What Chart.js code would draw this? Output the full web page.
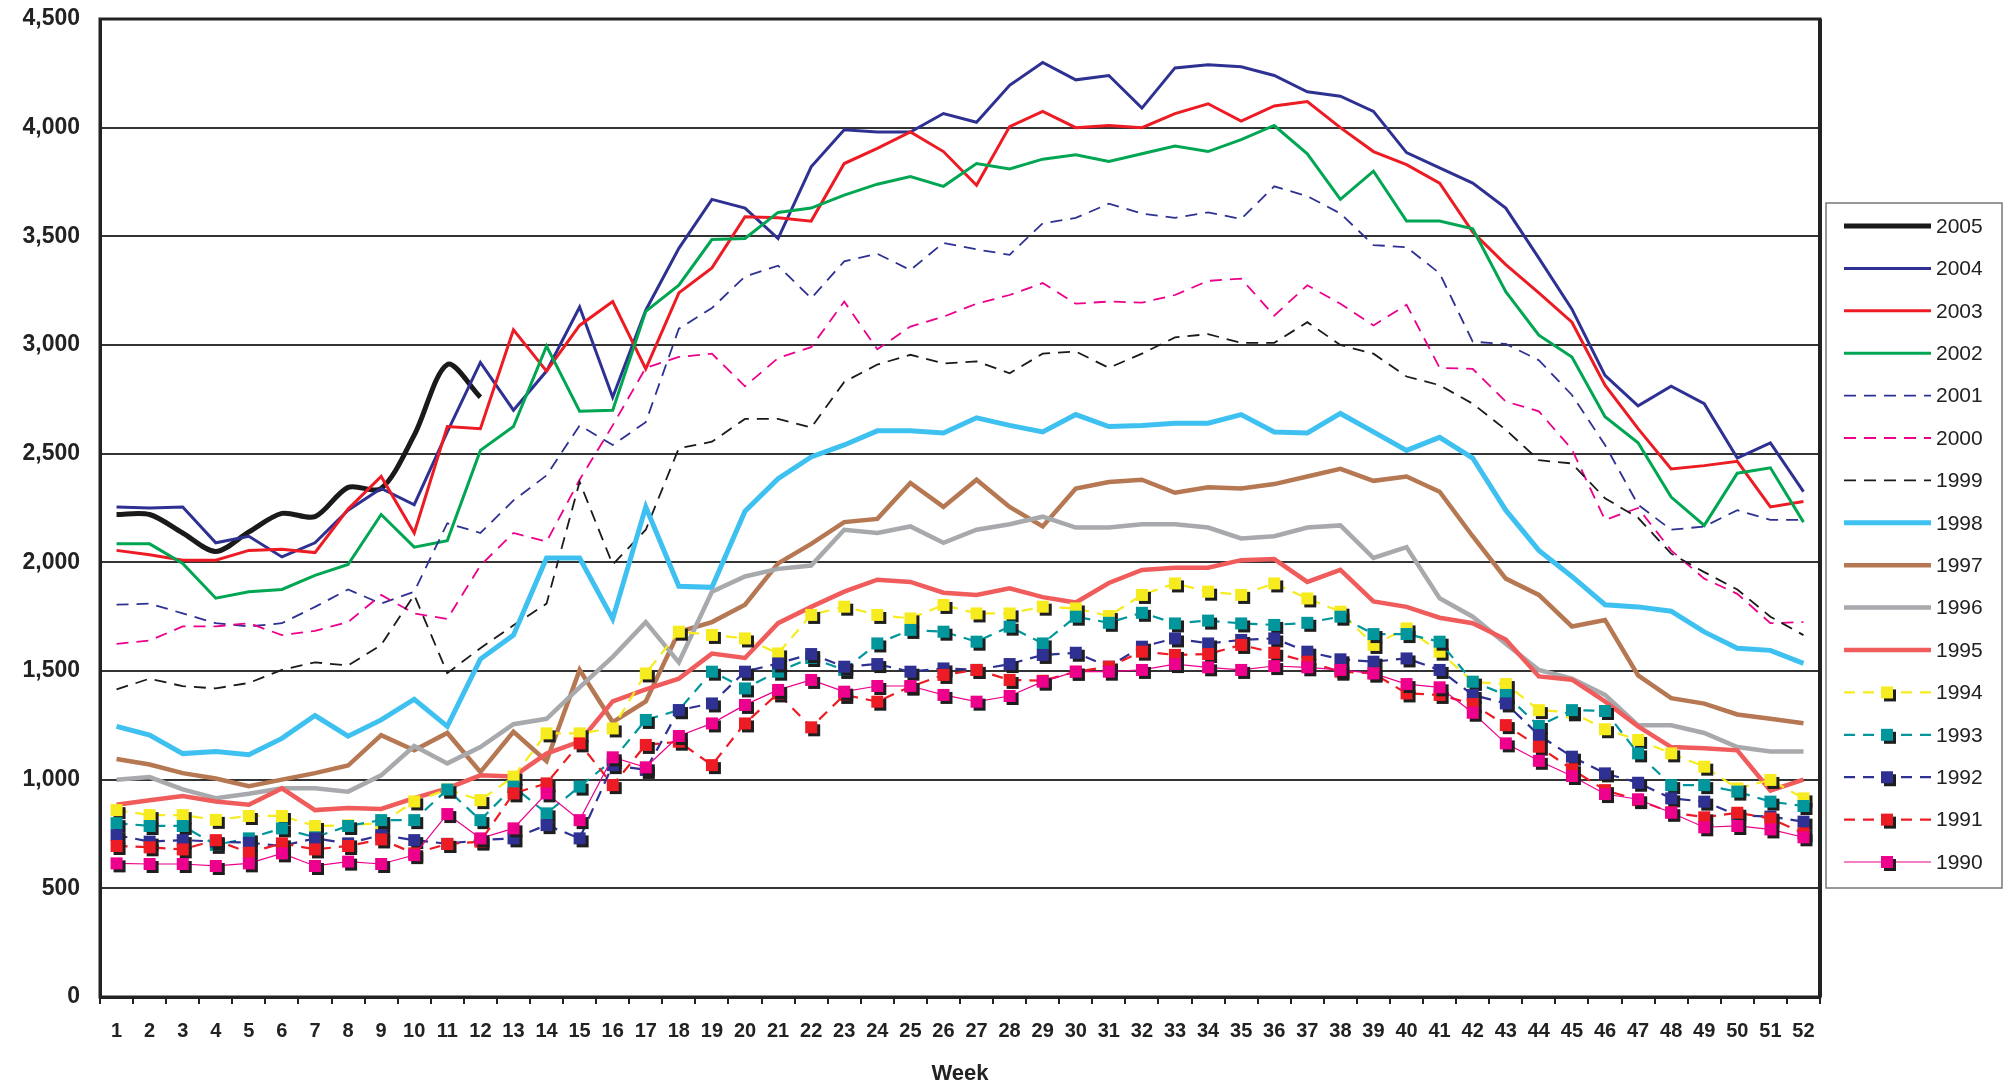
<!DOCTYPE html>
<html>
<head>
<meta charset="utf-8">
<script src="https://cdn.jsdelivr.net/npm/chart.js@4.4.1/dist/chart.umd.min.js"></script>
<style>
  html, body { margin: 0; padding: 0; background: #fff; }
  canvas { display: block; }
</style>
</head>
<body>
<canvas id="chart" width="2012" height="1088"></canvas>
<script>
// tick labels
const weeks = ['1','2','3','4','5','6','7','8','9','10','11','12','13','14','15','16','17','18','19','20',
  '21','22','23','24','25','26','27','28','29','30','31','32','33','34','35','36','37','38','39','40',
  '41','42','43','44','45','46','47','48','49','50','51','52'];

// weekly values per year
const y2005 = [2220, 2220, 2135, 2050, 2140, 2225, 2210, 2345, 2340, 2585, 2910, 2760];
const y2004 = [2255, 2250, 2255, 2090, 2120, 2025, 2090, 2240, 2340, 2265, 2600, 2920, 2700, 2880, 3175, 2760, 3160, 3445, 3670, 3630, 3490, 3820, 3990, 3980, 3980, 4065, 4025, 4195, 4300, 4220, 4240, 4090, 4275, 4290, 4280, 4240, 4165, 4145, 4075, 3885, 3815, 3745, 3630, 3400, 3165, 2860, 2720, 2810, 2730, 2480, 2550, 2325];
const y2003 = [2055, 2035, 2010, 2010, 2055, 2060, 2045, 2245, 2395, 2135, 2625, 2615, 3070, 2880, 3090, 3200, 2890, 3240, 3355, 3590, 3585, 3570, 3835, 3905, 3980, 3890, 3735, 4005, 4075, 4000, 4010, 4000, 4065, 4110, 4030, 4100, 4120, 4000, 3890, 3830, 3745, 3520, 3370, 3240, 3105, 2815, 2615, 2430, 2445, 2465, 2255, 2280];
const y2002 = [2085, 2085, 1995, 1835, 1865, 1875, 1940, 1990, 2220, 2070, 2100, 2515, 2625, 2995, 2695, 2700, 3155, 3275, 3485, 3490, 3610, 3630, 3690, 3740, 3775, 3730, 3835, 3810, 3855, 3875, 3845, 3880, 3915, 3890, 3945, 4010, 3880, 3670, 3800, 3570, 3570, 3535, 3245, 3045, 2945, 2670, 2550, 2300, 2170, 2410, 2435, 2185];
const y2001 = [1805, 1810, 1765, 1720, 1705, 1720, 1795, 1875, 1810, 1865, 2180, 2135, 2285, 2400, 2630, 2540, 2645, 3075, 3170, 3315, 3365, 3215, 3385, 3420, 3345, 3470, 3440, 3415, 3560, 3585, 3650, 3605, 3585, 3610, 3580, 3730, 3685, 3605, 3460, 3450, 3330, 3015, 3005, 2930, 2770, 2540, 2265, 2150, 2165, 2240, 2195, 2195];
const y2000 = [1625, 1640, 1705, 1705, 1720, 1665, 1685, 1725, 1850, 1765, 1740, 1985, 2135, 2095, 2380, 2630, 2895, 2945, 2960, 2810, 2940, 2990, 3200, 2980, 3085, 3130, 3190, 3230, 3285, 3190, 3200, 3195, 3230, 3295, 3305, 3135, 3275, 3190, 3090, 3185, 2895, 2890, 2740, 2695, 2520, 2195, 2250, 2055, 1925, 1855, 1720, 1725];
const y1999 = [1415, 1465, 1430, 1420, 1445, 1505, 1540, 1525, 1620, 1850, 1490, 1605, 1710, 1810, 2370, 1990, 2150, 2525, 2555, 2660, 2660, 2620, 2830, 2910, 2955, 2915, 2925, 2870, 2960, 2970, 2895, 2960, 3035, 3050, 3010, 3010, 3105, 3000, 2960, 2855, 2815, 2730, 2610, 2470, 2455, 2295, 2205, 2040, 1955, 1875, 1750, 1665];
const y1998 = [1245, 1205, 1120, 1130, 1115, 1190, 1295, 1200, 1275, 1370, 1245, 1555, 1665, 2020, 2020, 1740, 2255, 1890, 1885, 2235, 2385, 2485, 2540, 2605, 2605, 2595, 2665, 2630, 2600, 2680, 2625, 2630, 2640, 2640, 2680, 2600, 2595, 2685, 2600, 2515, 2575, 2480, 2240, 2055, 1935, 1805, 1795, 1775, 1680, 1605, 1595, 1535];
const y1997 = [1095, 1070, 1030, 1005, 970, 1000, 1030, 1065, 1205, 1135, 1215, 1035, 1220, 1085, 1505, 1265, 1360, 1680, 1725, 1805, 1995, 2085, 2185, 2200, 2365, 2255, 2380, 2255, 2165, 2340, 2370, 2380, 2320, 2345, 2340, 2360, 2395, 2430, 2375, 2395, 2325, 2120, 1925, 1850, 1705, 1735, 1480, 1375, 1350, 1300, 1280, 1260];
const y1996 = [1000, 1012, 955, 915, 935, 960, 960, 945, 1020, 1155, 1075, 1150, 1255, 1280, 1425, 1565, 1725, 1540, 1865, 1935, 1970, 1985, 2150, 2135, 2165, 2090, 2150, 2175, 2210, 2160, 2160, 2175, 2175, 2160, 2110, 2120, 2160, 2170, 2020, 2070, 1835, 1750, 1625, 1505, 1465, 1390, 1250, 1250, 1215, 1150, 1130, 1130];
const y1995 = [885, 905, 925, 900, 885, 960, 860, 870, 865, 915, 960, 1020, 1015, 1120, 1175, 1360, 1415, 1465, 1580, 1560, 1720, 1795, 1865, 1920, 1910, 1860, 1850, 1880, 1840, 1815, 1905, 1965, 1975, 1975, 2010, 2015, 1910, 1965, 1820, 1795, 1745, 1720, 1645, 1475, 1460, 1360, 1245, 1150, 1145, 1135, 950, 1000];
const y1994 = [860, 837, 837, 815, 833, 833, 787, 790, 800, 900, 955, 906, 1014, 1213, 1213, 1236, 1489, 1681, 1666, 1650, 1581, 1758, 1796, 1758, 1742, 1804, 1765, 1765, 1796, 1788, 1753, 1850, 1903, 1865, 1850, 1903, 1834, 1773, 1620, 1696, 1589, 1450, 1440, 1320, 1310, 1232, 1183, 1121, 1060, 960, 999, 914];
const y1993 = [800, 787, 787, 700, 730, 776, 735, 787, 814, 814, 955, 814, 968, 845, 968, 1090, 1275, 1320, 1497, 1420, 1497, 1560, 1505, 1627, 1689, 1681, 1635, 1704, 1627, 1750, 1722, 1768, 1719, 1732, 1719, 1712, 1722, 1750, 1670, 1670, 1635, 1451, 1390, 1247, 1320, 1316, 1121, 975, 975, 945, 899, 879];
const y1992 = [745, 715, 722, 715, 710, 695, 730, 707, 745, 722, 705, 722, 730, 791, 730, 1067, 1045, 1320, 1351, 1497, 1535, 1578, 1520, 1532, 1497, 1512, 1505, 1532, 1574, 1584, 1520, 1612, 1650, 1627, 1643, 1650, 1589, 1554, 1543, 1558, 1505, 1390, 1351, 1205, 1106, 1029, 986, 914, 899, 837, 830, 807];
const y1991 = [695, 689, 679, 722, 664, 707, 679, 695, 725, 661, 704, 715, 937, 983, 1167, 975, 1160, 1175, 1067, 1259, 1397, 1241, 1390, 1359, 1428, 1482, 1505, 1459, 1455, 1497, 1520, 1589, 1574, 1578, 1620, 1584, 1543, 1497, 1489, 1397, 1390, 1348, 1251, 1152, 1048, 952, 906, 850, 827, 848, 822, 753];
const y1990 = [615, 612, 612, 603, 615, 661, 603, 623, 612, 653, 842, 730, 776, 937, 814, 1103, 1057, 1201, 1259, 1344, 1413, 1459, 1405, 1431, 1431, 1390, 1359, 1385, 1451, 1497, 1497, 1505, 1532, 1517, 1505, 1523, 1517, 1505, 1489, 1440, 1425, 1308, 1167, 1087, 1017, 934, 910, 848, 781, 787, 771, 735];

const NAVY = '#2E3192', RED = '#ED1C24', MAGENTA = '#EC008C';

// square marker with the black drop shadow Excel puts behind it
function squareMarker(color) {
    const c = document.createElement('canvas');
    c.width = 22; c.height = 22;
    const g = c.getContext('2d');
    g.fillStyle = '#1e1e1e';
    g.fillRect(8, 8, 12, 12);
    g.fillStyle = color;
    g.fillRect(5, 5, 12, 12);
    return c;
}

function series(label, data, color, width, dash, marker) {
    return {
        label: label,
        data: data,
        borderColor: color,
        backgroundColor: color,
        borderWidth: width,
        borderDash: dash || [],
        fill: false,
        tension: label === '2005' ? 0.3 : 0,
        pointStyle: marker ? squareMarker(color) : 'circle',
        pointRadius: marker ? 6 : 0,
        pointHoverRadius: marker ? 6 : 0,
        marker: !!marker,
    };
}

// Excel draws the older years on top, so 1990 comes first here (index 0 is drawn last)
const datasets = [
    series('1990', y1990, MAGENTA, 1.2, null, true),
    series('1991', y1991, RED, 2.2, [11, 8], true),
    series('1992', y1992, NAVY, 2.2, [11, 8], true),
    series('1993', y1993, '#00969B', 2.2, [11, 8], true),
    series('1994', y1994, '#F6EB1F', 2.2, [11, 8], true),
    series('1995', y1995, '#F05C5C', 4.5),
    series('1996', y1996, '#A7A9AC', 4.5),
    series('1997', y1997, '#B57852', 4.5),
    series('1998', y1998, '#3EC1F0', 5),
    series('1999', y1999, '#1a1a1a', 1.8, [12, 8]),
    series('2000', y2000, MAGENTA, 1.8, [12, 8]),
    series('2001', y2001, NAVY, 1.8, [12, 8]),
    series('2002', y2002, '#00A651', 3),
    series('2003', y2003, RED, 3),
    series('2004', y2004, NAVY, 3),
    series('2005', y2005, '#1a1a1a', 5),
];

const legendOrder = ['2005', '2004', '2003', '2002', '2001', '2000', '1999', '1998',
    '1997', '1996', '1995', '1994', '1993', '1992', '1991', '1990'];

// plot frame and the boxed legend on the right
const frameAndLegend = {
    id: 'frameAndLegend',
    afterDraw(chart) {
        const ctx = chart.ctx;
        const a = chart.chartArea;
        ctx.save();
        ctx.strokeStyle = '#222';
        ctx.lineWidth = 3;
        ctx.setLineDash([]);
        ctx.strokeRect(a.left, a.top, a.right - a.left, a.bottom - a.top);
        ctx.lineWidth = 4;
        ctx.beginPath();
        ctx.moveTo(a.right, a.top);
        ctx.lineTo(a.right, a.bottom);
        ctx.stroke();

        const boxX = a.right + 6, boxY = 203, boxW = 176, boxH = 685;
        ctx.lineWidth = 1.5;
        ctx.strokeStyle = '#777';
        ctx.strokeRect(boxX, boxY, boxW, boxH);

        ctx.font = '21px Arial, "Liberation Sans", sans-serif';
        ctx.textBaseline = 'middle';
        ctx.fillStyle = '#222';
        legendOrder.forEach((year, i) => {
            const ds = chart.data.datasets.find(d => d.label === year);
            const y = 226 + i * 42.4;
            ctx.save();
            ctx.strokeStyle = ds.borderColor;
            ctx.lineWidth = ds.borderWidth;
            ctx.setLineDash(ds.borderDash);
            ctx.beginPath();
            ctx.moveTo(boxX + 18, y);
            ctx.lineTo(boxX + 105, y);
            ctx.stroke();
            if (ds.marker) {
                const m = ds.pointStyle;
                ctx.drawImage(m, boxX + 61 - m.width / 2, y - m.height / 2);
            }
            ctx.restore();
            ctx.fillText(year, boxX + 110, y + 1);
        });
        ctx.restore();
    }
};

const tickFont = { family: 'Arial, "Liberation Sans", sans-serif', weight: 'bold' };

new Chart(document.getElementById('chart'), {
    type: 'line',
    data: { labels: weeks, datasets: datasets },
    options: {
        responsive: false,
        animation: false,
        devicePixelRatio: 1,
        layout: { padding: { top: 19, right: 192, left: 0, bottom: 0 } },
        plugins: {
            legend: { display: false },
            tooltip: { enabled: false },
        },
        scales: {
            x: {
                offset: true,
                grid: { drawOnChartArea: false, drawTicks: true, tickLength: 7, color: '#222', lineWidth: 2, offset: true },
                border: { color: '#222', width: 3 },
                ticks: { color: '#222', font: { ...tickFont, size: 20 }, padding: 15, maxRotation: 0, autoSkip: false },
                title: {
                    display: true,
                    text: 'Week',
                    color: '#222',
                    font: { ...tickFont, size: 22 },
                    padding: { top: 4, bottom: 1 },
                },
                afterFit(scale) { scale.height = 91; },
            },
            y: {
                min: 0,
                max: 4500,
                // tick padding also pads the top of the plot, so the gap comes from an invisible tick mark
                grid: { color: '#333', lineWidth: 2, drawTicks: true, tickLength: 20, tickColor: 'rgba(0,0,0,0)' },
                border: { color: '#222', width: 3 },
                ticks: {
                    stepSize: 500,
                    color: '#222',
                    padding: 0,
                    font: { ...tickFont, size: 23 },
                    callback: v => v.toLocaleString('en-US'),
                },
                afterFit(scale) { scale.width = 100; },
            },
        },
    },
    plugins: [frameAndLegend],
});
</script>
</body>
</html>
